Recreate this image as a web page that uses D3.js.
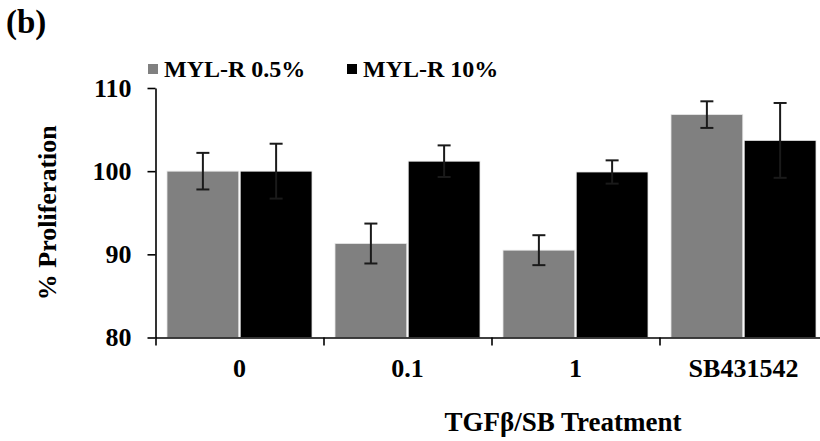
<!DOCTYPE html>
<html>
<head>
<meta charset="utf-8">
<script src="https://cdn.jsdelivr.net/npm/d3@7"></script>
<style>
  html, body { margin: 0; padding: 0; background: #fff; }
  svg { display: block; }
  text { font-family: "Liberation Serif", "Times New Roman", serif; font-weight: bold; fill: #000; }
</style>
</head>
<body>
<svg id="chart" width="820" height="441"></svg>
<script>
// Treatment groups and the two serum conditions
const categories = ["0", "0.1", "1", "SB431542"];
const seriesNames = ["MYL-R 0.5%", "MYL-R 10%"];
const seriesColors = ["#808080", "#000000"];

// Mean % proliferation per group
const values05 = [100.0, 91.3, 90.5, 106.8];
const values10 = [100.0, 101.2, 99.9, 103.7];

// Error (± SD) per group
const errors05 = [2.2, 2.4, 1.8, 1.6];
const errors10 = [3.3, 1.9, 1.4, 4.5];

const yTicks = [80, 90, 100, 110];

const svg = d3.select("#chart");

const plotLeft = 155.5, plotRight = 827.5, plotTop = 88, plotBottom = 337.5;

const x = d3.scaleBand().domain(categories).range([plotLeft, plotRight]).paddingInner(0).paddingOuter(0);
const sub = d3.scaleBand().domain(seriesNames)
  .range([11.5, x.bandwidth() - 11.5]).paddingInner(0.02).paddingOuter(0);
const y = d3.scaleLinear().domain([80, 110]).range([plotBottom, plotTop]);

const rows = categories.map((c, i) => ({
  cat: c,
  items: [
    { s: seriesNames[0], v: values05[i], e: errors05[i], color: seriesColors[0] },
    { s: seriesNames[1], v: values10[i], e: errors10[i], color: seriesColors[1] }
  ]
}));

// Bars
const groups = svg.append("g").selectAll("g").data(rows).join("g")
  .attr("transform", d => `translate(${x(d.cat)},0)`);

groups.selectAll("rect").data(d => d.items).join("rect")
  .attr("x", d => sub(d.s))
  .attr("width", sub.bandwidth())
  .attr("y", d => y(d.v))
  .attr("height", d => y(80) - y(d.v))
  .attr("fill", d => d.color)
  .attr("stroke", "#e6e6e6")
  .attr("stroke-width", 0.8);

// Error bars
const capHalf = 6.5;
const eb = groups.selectAll("g.err").data(d => d.items).join("g").attr("class", "err")
  .attr("stroke", "#1a1a1a").attr("stroke-width", 2);
eb.append("line")
  .attr("x1", d => sub(d.s) + sub.bandwidth() / 2)
  .attr("x2", d => sub(d.s) + sub.bandwidth() / 2)
  .attr("y1", d => y(d.v - d.e))
  .attr("y2", d => y(d.v + d.e));
eb.append("line")
  .attr("x1", d => sub(d.s) + sub.bandwidth() / 2 - capHalf)
  .attr("x2", d => sub(d.s) + sub.bandwidth() / 2 + capHalf)
  .attr("y1", d => y(d.v + d.e)).attr("y2", d => y(d.v + d.e));
eb.append("line")
  .attr("x1", d => sub(d.s) + sub.bandwidth() / 2 - capHalf)
  .attr("x2", d => sub(d.s) + sub.bandwidth() / 2 + capHalf)
  .attr("y1", d => y(d.v - d.e)).attr("y2", d => y(d.v - d.e));

// Y axis
const yAxis = svg.append("g")
  .attr("transform", `translate(${plotLeft},0)`)
  .call(d3.axisLeft(y).tickValues(yTicks).tickSize(8).tickSizeOuter(0).tickPadding(16));
yAxis.select(".domain").attr("stroke", "#000").attr("stroke-width", 1.6);
yAxis.selectAll(".tick line").attr("stroke", "#000").attr("stroke-width", 1.6);
yAxis.selectAll(".tick text")
  .style("font-family", "'Liberation Serif', serif")
  .style("font-weight", "bold").style("font-size", "26px").attr("fill", "#000");

// X axis: boundary ticks between groups
const bounds = d3.scaleLinear().domain([0, categories.length]).range([plotLeft, plotRight]);
const xAxis = svg.append("g")
  .attr("transform", `translate(0,${plotBottom})`)
  .call(d3.axisBottom(bounds).tickValues(d3.range(categories.length + 1)).tickSize(8).tickSizeOuter(0).tickFormat(""));
xAxis.select(".domain").attr("stroke", "#000").attr("stroke-width", 1.6);
xAxis.selectAll(".tick line").attr("stroke", "#000").attr("stroke-width", 1.6);

// Category labels
const xLabels = svg.append("g")
  .attr("transform", `translate(0,${plotBottom})`)
  .call(d3.axisBottom(x).tickSize(0).tickPadding(21));
xLabels.select(".domain").remove();
xLabels.selectAll(".tick text")
  .style("font-family", "'Liberation Serif', serif")
  .style("font-weight", "bold").style("font-size", "26px").attr("fill", "#000");

// Axis titles
svg.append("text")
  .attr("transform", `translate(56,${(plotTop + plotBottom) / 2}) rotate(-90)`)
  .attr("text-anchor", "middle")
  .style("font-size", "26px")
  .text("% Proliferation");

svg.append("text")
  .attr("x", 563).attr("y", 431)
  .attr("text-anchor", "middle")
  .style("font-size", "27px")
  .text("TGFβ/SB Treatment");

// Panel label
svg.append("text")
  .attr("x", 6).attr("y", 33)
  .style("font-size", "33px")
  .text("(b)");

// Legend
const legendX = [148, 347];
const legend = svg.append("g").selectAll("g").data(seriesNames).join("g")
  .attr("transform", (d, i) => `translate(${legendX[i]},64)`);
legend.append("rect").attr("width", 10).attr("height", 10)
  .attr("fill", (d, i) => seriesColors[i]);
legend.append("text").attr("x", 16).attr("y", 13)
  .style("font-size", "24px")
  .text(d => d);
</script>
</body>
</html>
